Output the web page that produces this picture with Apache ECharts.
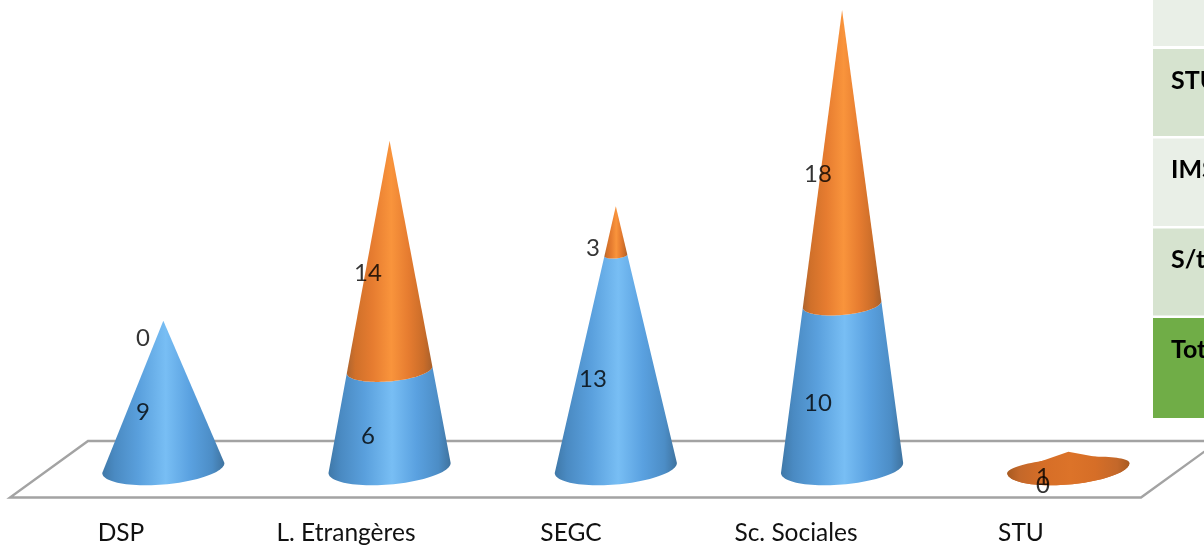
<!DOCTYPE html>
<html><head><meta charset="utf-8">
<style>html,body{margin:0;padding:0;background:#fff;overflow:hidden}#c{width:1204px;height:546px}</style>
<script src="https://cdn.jsdelivr.net/npm/echarts@6/dist/echarts.min.js"></script>
</head><body><div id="c"></div>
<script>
const categories = ['DSP','L. Etrangères','SEGC','Sc. Sociales','STU'];
const lowerValues = [9,6,13,10,0];
const upperValues = [0,14,3,18,1];
const tableRows = ['STU','IMS','S/total','Total'];

const FONT = 'Lato';
const STOPS = [0,.1,.3,.52,.72,.9,1];
const BLUE = ['#3f78a8','#4a8ac2','#5aa0dd','#78bef4','#5aa1e0','#4c8dc6','#3f739f'];
const ORANGE = ['#ad6530','#d0702a','#e67c30','#f9943c','#e67c30','#c96c29','#a8602c'];
const STU_ORANGE = ['#a85a20','#c4682a','#d66e27','#dc7329','#d66e27','#c4682a','#a85a20'];
function grad(c){
  return new echarts.graphic.LinearGradient(0,0,1,0,STOPS.map((o,i)=>({offset:o,color:c[i]})));
}
const K = 0.27, TILT = 0.082, BASE_RATIO = 0.27, BACK_FLAT = 0.62;

function ringPoint(cx,cy,r,t,k){
  return [cx + r*Math.cos(t), cy + r*(k||K)*Math.sin(t) - r*TILT*Math.cos(t)];
}
function frontArc(cx,cy,r){
  const p=[]; for(let i=0;i<=48;i++) p.push(ringPoint(cx,cy,r,Math.PI*i/48)); return p;
}
function renderCone(params,api){
  const i=api.value(0), a=api.value(1), b=api.value(2);
  const total=a+b;
  const base=api.coord([i,0]), tip=api.coord([i,total]);
  const R=api.size([1,0])[0]*BASE_RATIO;
  const cx=base[0];
  const children=[];
  function section(v1,v2,pal){
    const y1=api.coord([i,v1])[1], y2=api.coord([i,v2])[1];
    const r1=R*(1-v1/total), r2=R*(1-v2/total);
    let pts=frontArc(cx,y1,r1);
    pts=pts.concat(r2>0.01?frontArc(cx,y2,r2).reverse():[[tip[0],tip[1]]]);
    children.push({type:'polygon',shape:{points:pts},style:{fill:grad(pal)}});
  }
  const flat = base[1]-tip[1] < R*K*1.5;
  if(flat){
    const pts=frontArc(cx,base[1],R);
    for(let k=1;k<48;k++) pts.push(ringPoint(cx,base[1],R,Math.PI+Math.PI*k/48,K*BACK_FLAT));
    children.push({type:'polygon',shape:{points:pts},style:{fill:grad(STU_ORANGE)}});
  }
  if(a>0) section(0,a,BLUE);
  if(b>0) section(a,total,a>0?ORANGE:STU_ORANGE);
  return {type:'group',children};
}

const labelData=[];
categories.forEach((c,i)=>{
  labelData.push([i,lowerValues[i]/2,lowerValues[i]]);
  labelData.push([i,lowerValues[i]+upperValues[i]/2,upperValues[i]]);
});

const tableGraphics=[];
[[0,46,'#e9efe7',null],[49,87,'#d6e3cf',0],[138.5,87.5,'#e9efe7',1],[228.5,87,'#d6e3cf',2],[318,100,'#70ad47',3]].forEach(r=>{
  tableGraphics.push({type:'rect',shape:{x:1153,y:r[0],width:60,height:r[1]},style:{fill:r[2]},silent:true});
  if(r[3]!==null) tableGraphics.push({type:'text',x:1171,y:r[0]+19,style:{text:tableRows[r[3]],font:'bold 25px '+FONT,fill:'#000'},silent:true});
});

const option={
  animation:false,
  backgroundColor:'#fff',
  textStyle:{fontFamily:FONT},
  grid:[
    {left:50.2,width:1131.25,top:10,height:458},
    {left:8.5,width:1125,top:10,height:458}
  ],
  xAxis:[
    {type:'category',gridIndex:0,data:categories,show:false},
    {type:'category',gridIndex:1,data:categories,axisLine:{show:false},axisTick:{show:false},
     axisLabel:{margin:53,fontSize:24.5,fontFamily:FONT,color:'#111',interval:0}}
  ],
  yAxis:[
    {type:'value',gridIndex:0,min:0,max:28,show:false},
    {type:'value',gridIndex:1,min:0,max:28,show:false}
  ],
  graphic:[
    {type:'polyline',shape:{points:[[1219,441],[88,441],[10,497.5],[1141,497.5],[1219,441]]},
     style:{stroke:'#a3a3a3',lineWidth:2.4,fill:null},silent:true,z:0},
    ...tableGraphics
  ],
  series:[
    {type:'custom',xAxisIndex:0,yAxisIndex:0,renderItem:renderCone,z:2,
     data:categories.map((c,i)=>[i,lowerValues[i],upperValues[i]])},
    {type:'scatter',xAxisIndex:1,yAxisIndex:1,symbolSize:1,z:5,
     itemStyle:{color:'transparent'},data:labelData,
     label:{show:true,position:'inside',offset:[22,17.5],fontSize:24,fontFamily:FONT,color:'#000',
       formatter:p=>String(p.value[2])}}
  ]
};
const chart=echarts.init(document.getElementById('c'),null,{renderer:'canvas'});
chart.setOption(option);
</script></body></html>
